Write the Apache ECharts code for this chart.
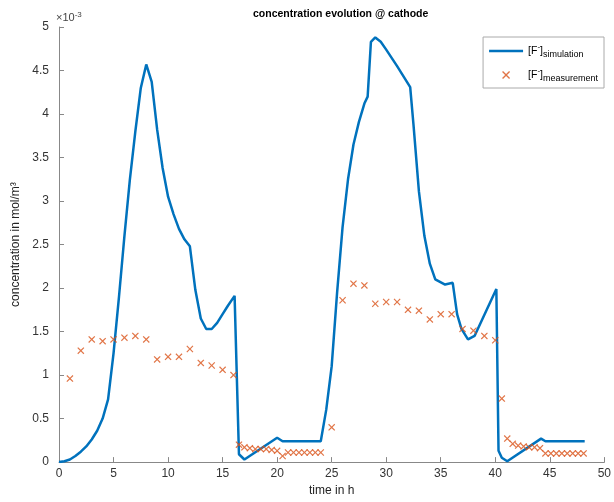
<!DOCTYPE html>
<html>
<head>
<meta charset="utf-8">
<script src="https://cdn.jsdelivr.net/npm/echarts@6/dist/echarts.min.js"></script>
<style>
  html, body { margin: 0; padding: 0; background: #fff; }
  #chart { width: 614px; height: 502px; }
</style>
</head>
<body>
<div id="chart"></div>
<script>
// * concentration evolution @ cathode

// ? data (values in 1e-3 mol/m3)
const simTime = [0, 0.5, 1, 1.5, 2, 2.5, 3, 3.5, 4, 4.5, 5, 5.5, 6, 6.5, 7, 7.5, 8, 8.5, 9, 9.5, 10, 10.5, 11, 11.5, 12, 12.5, 13, 13.5, 14, 14.5, 15, 15.5, 16.1, 16.5, 17, 20, 20.5, 24, 24.5, 25, 25.5, 26, 26.5, 27, 27.5, 28, 28.3, 28.6, 29, 29.5, 30, 31, 32, 32.2, 32.5, 33, 33.5, 34, 34.5, 35.4, 36.1, 36.5, 36.9, 37.5, 38.1, 40.1, 40.3, 40.6, 41.1, 44.2, 44.6, 48.2]
const simValue = [0, 0.01, 0.03, 0.07, 0.12, 0.18, 0.26, 0.36, 0.5, 0.72, 1.25, 1.9, 2.6, 3.25, 3.8, 4.3, 4.57, 4.37, 3.82, 3.38, 3.05, 2.85, 2.68, 2.56, 2.48, 1.98, 1.65, 1.53, 1.53, 1.6, 1.7, 1.8, 1.91, 0.09, 0.03, 0.28, 0.24, 0.24, 0.6, 1.1, 1.95, 2.7, 3.25, 3.65, 3.91, 4.12, 4.2, 4.83, 4.88, 4.83, 4.74, 4.55, 4.35, 4.31, 3.88, 3.11, 2.6, 2.28, 2.1, 2.04, 2.06, 1.7, 1.53, 1.41, 1.45, 1.99, 0.13, 0.05, 0.01, 0.27, 0.24, 0.24]

const measTime = [1, 2, 3, 4, 5, 6, 7, 8, 9, 10, 11, 12, 13, 14, 15, 16,
  16.5, 17, 17.5, 18, 18.5, 19, 19.5, 20, 20.5, 21, 21.5, 22, 22.5, 23, 23.5, 24,
  25, 26, 27, 28, 29, 30, 31, 32, 33, 34, 35, 36, 37, 38, 39, 40,
  40.6, 41.1, 41.6, 42.1, 42.6, 43.1, 43.6, 44.1, 44.6, 45.1, 45.6, 46.1, 46.6, 47.1, 47.6, 48.1]
const measValue = [0.96, 1.28, 1.41, 1.39, 1.41, 1.43, 1.45, 1.41, 1.18, 1.21, 1.21, 1.3, 1.14, 1.11, 1.06, 1.0,
  0.2, 0.17, 0.16, 0.15, 0.15, 0.15, 0.14, 0.13, 0.07, 0.11, 0.11, 0.11, 0.11, 0.11, 0.11, 0.11,
  0.4, 1.86, 2.05, 2.03, 1.82, 1.84, 1.84, 1.75, 1.74, 1.64, 1.7, 1.7, 1.53, 1.51, 1.45, 1.4,
  0.73, 0.27, 0.21, 0.19, 0.18, 0.17, 0.17, 0.16, 0.1, 0.1, 0.1, 0.1, 0.1, 0.1, 0.1, 0.1]

const xTicks = [0, 50, 5]
const yTicks = [0, 5, 0.5]

const simData = simTime.map((t, i) => [t, simValue[i]])
const measData = measTime.map((t, i) => [t, measValue[i]])

const font = 'Liberation Sans, Arial, Helvetica, sans-serif'
const crossPath = 'path://M0,1.2 L1.2,0 L5,3.8 L8.8,0 L10,1.2 L6.2,5 L10,8.8 L8.8,10 L5,6.2 L1.2,10 L0,8.8 L3.8,5 Z'
// thin line icon, padded top/bottom so it is not stretched
const lineIcon = 'path://M0,0 L0.01,0 Z M0,2.8 L34,2.8 L34,5.2 L0,5.2 Z M0,8 L0.01,8 Z'

const chart = echarts.init(document.getElementById('chart'))

const option = {
  backgroundColor: '#fff',
  animation: false,
  textStyle: { fontFamily: font },
  title: {
    text: 'concentration evolution @ cathode',
    left: 248,
    top: 4,
    textStyle: { fontSize: 10.5, fontWeight: 'bold', color: '#000', fontFamily: font }
  },
  grid: { left: 59, right: 5, top: 27, bottom: 38, containLabel: false },
  legend: {
    orient: 'vertical',
    right: 10,
    top: 37,
    padding: [5, 6, 4, 6],
    itemGap: 6,
    itemWidth: 34,
    itemHeight: 8,
    borderColor: '#aaa',
    borderWidth: 1,
    borderRadius: 0,
    data: [
      { name: 'sim', icon: lineIcon },
      { name: 'meas' }
    ],
    formatter: name => name === 'sim'
      ? '[F{sup|-}]{sub|simulation}'
      : '[F{sup|-}]{sub|measurement}',
    textStyle: {
      fontSize: 10.5,
      color: '#000',
      fontFamily: font,
      lineHeight: 18,
      rich: {
        sup: { fontSize: 8, verticalAlign: 'top', padding: [1, 0, 0, 0], fontFamily: font, color: '#000' },
        sub: { fontSize: 9, verticalAlign: 'bottom', padding: [0, 0, 1, 0], fontFamily: font, color: '#000' }
      }
    }
  },
  graphic: [
    {
      type: 'text',
      left: 56,
      top: 11,
      style: {
        text: '×10{sup|-3}',
        fontSize: 11,
        fontFamily: font,
        fill: '#444',
        rich: {
          sup: { fontSize: 8, verticalAlign: 'top', padding: [0, 0, 6, 0], fontFamily: font, fill: '#444' }
        }
      }
    }
  ],
  xAxis: {
    type: 'value',
    min: xTicks[0],
    max: xTicks[1],
    interval: xTicks[2],
    name: 'time in h',
    nameLocation: 'middle',
    nameGap: 21,
    nameTextStyle: { fontSize: 12, color: '#222', fontFamily: font },
    axisLine: { lineStyle: { color: '#888', width: 1 } },
    axisTick: { inside: true, length: 5, lineStyle: { color: '#888' } },
    axisLabel: { fontSize: 12, color: '#333', margin: 6, fontFamily: font },
    splitLine: { show: false }
  },
  yAxis: {
    type: 'value',
    min: yTicks[0],
    max: yTicks[1],
    interval: yTicks[2],
    name: 'concentration in mol/m³',
    nameLocation: 'middle',
    nameRotate: 90,
    nameGap: 32,
    nameTextStyle: { fontSize: 12, color: '#222', fontFamily: font },
    axisLine: { show: true, lineStyle: { color: '#888', width: 1 } },
    axisTick: { show: true, inside: true, length: 5, lineStyle: { color: '#888' } },
    axisLabel: { fontSize: 12, color: '#333', margin: 10, fontFamily: font },
    splitLine: { show: false }
  },
  series: [
    {
      name: 'sim',
      type: 'line',
      data: simData,
      symbol: 'none',
      smooth: false,
      lineStyle: { color: '#0072BD', width: 2.5 },
      itemStyle: { color: '#0072BD' },
      z: 2
    },
    {
      name: 'meas',
      type: 'scatter',
      data: measData,
      symbol: crossPath,
      symbolSize: 7,
      itemStyle: { color: '#D95319' },
      z: 3
    }
  ]
}

chart.setOption(option)
</script>
</body>
</html>
